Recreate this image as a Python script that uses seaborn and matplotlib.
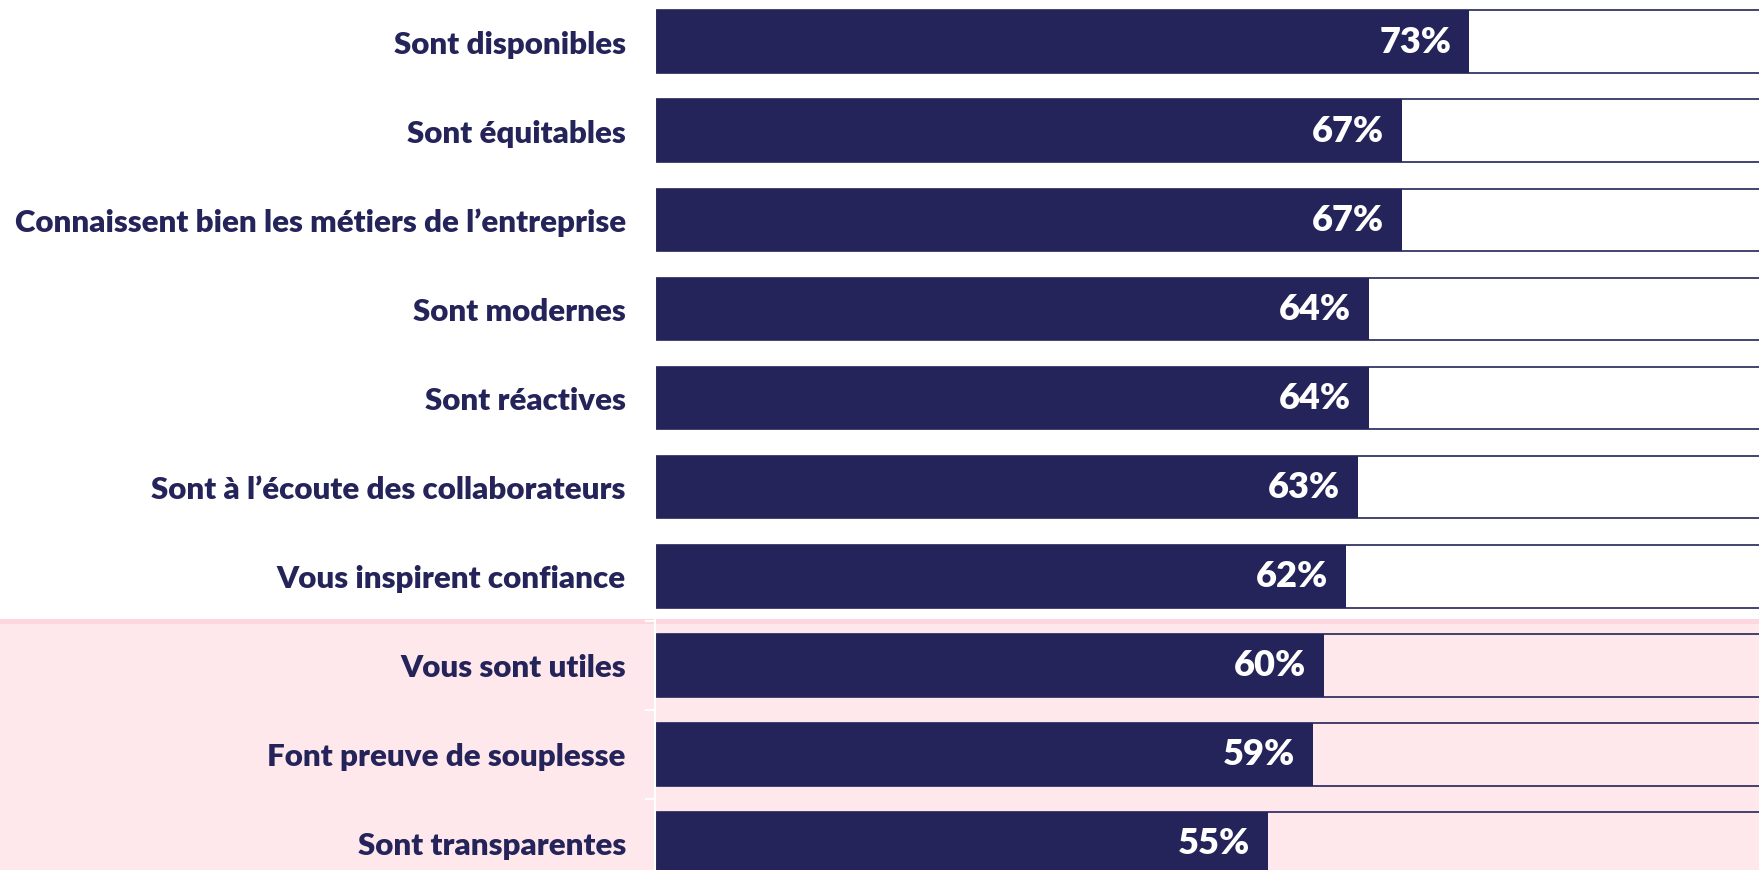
import matplotlib.pyplot as plt
import pandas as pd
import seaborn as sns

# data
categories = [
    "Sont disponibles",
    "Sont équitables",
    "Connaissent bien les métiers de l’entreprise",
    "Sont modernes",
    "Sont réactives",
    "Sont à l’écoute des collaborateurs",
    "Vous inspirent confiance",
    "Vous sont utiles",
    "Font preuve de souplesse",
    "Sont transparentes",
]
values = [73, 67, 67, 64, 64, 63, 62, 60, 59, 55]
totals = [100] * len(values)

NAVY = "#24245a"
PINK = "#fee8ec"
PINK_EDGE = "#fdd6de"

df = pd.DataFrame({"Item": categories, "Value": values, "Total": totals})

sns.set_theme(style="white")
plt.rcParams["font.family"] = ["Lato", "DejaVu Sans"]

fig = plt.figure(figsize=(17.59, 8.705), dpi=100)
ax = fig.add_axes([655 / 1759, 0, 1 - 655 / 1759, 1])

# pink band behind the last three items (extends under the labels)
ax.axhspan(6.48, 9.4, xmin=-0.6, xmax=1, color=PINK, zorder=0, clip_on=False, lw=0)
ax.axhspan(6.48, 6.535, xmin=-0.6, xmax=1, color=PINK_EDGE, zorder=0, clip_on=False, lw=0)

# full-length outline bars, then the value bars on top
sns.barplot(data=df, x="Total", y="Item", orient="h", ax=ax, width=0.705,
            fill=False, color=NAVY, linewidth=1.2, saturation=1)
sns.barplot(data=df, x="Value", y="Item", orient="h", ax=ax, width=0.705,
            color=NAVY, linewidth=0, saturation=1)

for i, v in enumerate(values):
    ax.text(v - 1.6, i, f"{v}%", ha="right", va="center", color="white",
            fontsize=26, fontweight="heavy")

ax.set_xlabel("")
ax.set_ylabel("")
ax.set_xticks([])
ax.tick_params(axis="y", which="major", length=0, pad=21)
ax.set_yticks([i + 0.5 for i in range(len(values))], minor=True)
ax.tick_params(axis="y", which="minor", length=7, width=1.5, color="white", left=True)
for lab in ax.get_yticklabels():
    lab.set_fontsize(22.5)
    lab.set_fontweight("heavy")
    lab.set_color(NAVY)

for side in ["top", "right", "bottom"]:
    ax.spines[side].set_visible(False)
ax.spines["left"].set_color("white")
ax.spines["left"].set_linewidth(1.5)
ax.patch.set_alpha(0)

ax.set_xlim(0, 99.0)
ax.set_ylim(9.30, -0.475)

fig.savefig("out.png", dpi=100)
